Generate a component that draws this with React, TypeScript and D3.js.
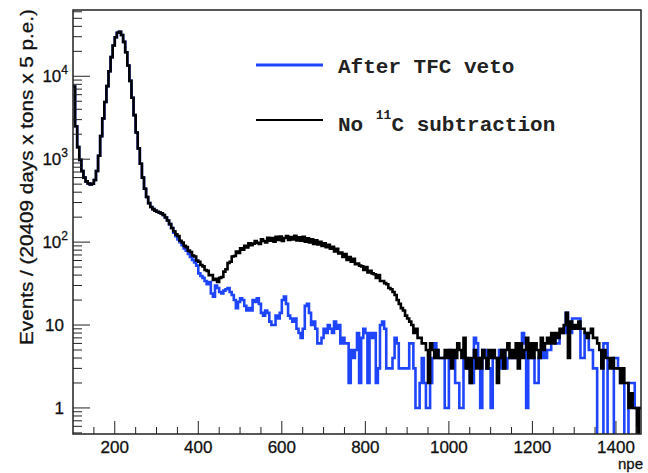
import React, { useEffect, useRef } from 'react';
import * as d3 from 'd3';

// npe histogram, 5 p.e. bins starting at 100
const binStart = 100;
const binWidth = 5;

// 100 - 335 npe: both spectra identical
const lowEnergyCounts = [
  7500, 2500, 1400, 980, 720, 600, 540, 510, 495, 505, 560, 720,
  1100, 1900, 3100, 4900, 7600, 11500, 17000, 23500, 29500, 33500, 34500, 31500,
  26000, 19500, 13500, 8800, 5500, 3400, 2100, 1350, 880, 600, 440, 350,
  295, 265, 250, 240, 232, 228, 222, 212, 198, 182, 165, 148,
];

// 340 - 1455 npe, no 11C subtraction
const noC11Tail = [
  135, 124, 118, 104, 99, 90, 87, 79, 76, 69, 67, 60,
  58, 53, 51, 46, 45, 40, 40, 35, 36, 33, 37, 38,
  44, 47, 56, 58, 67, 68, 77, 74, 84, 81, 90, 86,
  97, 92, 96, 103, 98, 95, 108, 103, 99, 113, 104, 112,
  101, 116, 106, 117, 103, 112, 118, 106, 115, 108, 119, 105,
  114, 104, 116, 101, 111, 99, 108, 95, 105, 94, 101, 90,
  97, 87, 93, 83, 88, 77, 83, 73, 75, 66, 72, 61,
  66, 58, 63, 54, 55, 52, 51, 46, 50, 43, 45, 42,
  41, 37, 40, 34, 34, 32, 31, 28, 27, 25, 23, 20,
  18, 16, 15, 13, 12, 11, 10, 8, 9, 7, 7, 6,
  6, 5, 2, 6, 5, 4, 5, 4, 4, 4, 5, 4,
  5, 3, 5, 4, 6, 5, 4, 7, 3, 4, 2, 4,
  5, 3, 4, 3, 5, 4, 3, 5, 4, 5, 4, 2,
  4, 5, 3, 5, 6, 4, 5, 4, 6, 3, 6, 4,
  5, 7, 4, 6, 4, 6, 5, 4, 7, 5, 6, 7,
  6, 8, 6, 8, 7, 9, 8, 10, 14, 4, 11, 9,
  10, 9, 11, 9, 9, 8, 7, 8, 9, 7, 7, 6,
  5, 3, 5, 4, 4, 3, 4, 3, 3, 3, 2, 3,
  2, 2, 1, 1.5, 1, 1, 0, 1,
];

// 340 - 1455 npe, after TFC veto
const tfcVetoTail = [
  130, 118, 108, 100, 92, 84, 79, 72, 66, 61, 57, 52,
  42, 39, 37, 34, 31, 33, 24, 22, 30, 28, 25, 24,
  26, 27, 28, 25, 23, 20, 16, 19, 21, 20, 17, 15,
  16, 15, 20, 19, 21, 18, 14, 13, 15, 14, 11, 10,
  10, 13, 12, 14, 20, 22, 18, 13, 12, 11, 12, 9,
  8, 7, 9, 17, 18, 14, 10, 11, 9, 6, 6, 7,
  9, 8, 10, 9, 8, 11, 9, 10, 6, 7, 6, 6,
  2, 5, 4, 5, 8, 2, 7, 9, 8, 2, 8, 7,
  8, 2, 3, 10, 11, 9, 3, 3, 3, 4, 7, 6,
  3, 3, 3, 3, 3, 6, 6, 3, 1, 1, 2, 4,
  2, 1, 1, 2, 4, 6, 5, 4, 4, 4, 1, 1,
  5, 4, 4, 2, 2, 1, 1, 4, 4, 3, 2, 2,
  7, 6, 4, 1, 5, 5, 3, 3, 1, 4, 4, 4,
  5, 3, 5, 3, 4, 4, 4, 4, 5, 4, 6, 8,
  6, 1, 4, 4, 4, 2, 2, 4, 4, 5, 4, 5,
  5, 7, 7, 6, 6, 8, 8, 8, 14, 8, 8, 12,
  12, 12, 12, 4, 4, 8, 8, 5, 5, 3, 3, 0,
  0, 0, 6, 6, 0, 0, 0, 4, 4, 3, 2, 2,
  0, 0, 2, 2, 2, 1, 1, 1,
];

const tfcVetoCounts = [...lowEnergyCounts, ...tfcVetoTail];
const noC11Counts = [...lowEnergyCounts, ...noC11Tail];

const xMajorTicks = [200, 400, 600, 800, 1000, 1200, 1400];
const yMajorTicks = [1, 10, 100, 1000, 10000];

const W = 648;
const H = 473;

const App = () => {
  const svgRef = useRef<SVGSVGElement>(null);

  useEffect(() => {
    const svg = d3.select(svgRef.current);
    svg.selectAll('*').remove();

    const left = 73, right = 641, top = 10, bottom = 434;

    const x = d3.scaleLinear().domain([100, 1460]).range([left, right]);
    const y = d3.scaleLog().domain([0.485, 63000]).range([bottom, top]);

    svg.append('rect').attr('width', W).attr('height', H).attr('fill', 'white');

    svg.append('defs').append('clipPath').attr('id', 'plot-clip')
      .append('rect')
      .attr('x', left).attr('y', top)
      .attr('width', right - left).attr('height', bottom - top);

    const stepPoints = (counts: number[]) => {
      const pts: [number, number][] = [];
      counts.forEach((c, i) => {
        const x0 = binStart + i * binWidth;
        const v = c > 0 ? c : 0.2;
        pts.push([x0, v]);
        pts.push([x0 + binWidth, v]);
      });
      return pts;
    };

    const line = d3.line<[number, number]>()
      .x(d => x(d[0]))
      .y(d => y(d[1]));

    const plot = svg.append('g').attr('clip-path', 'url(#plot-clip)');

    plot.append('path')
      .datum(stepPoints(tfcVetoCounts))
      .attr('fill', 'none')
      .attr('stroke', '#1f45fc')
      .attr('stroke-width', 2.6)
      .attr('d', line);

    plot.append('path')
      .datum(stepPoints(noC11Counts))
      .attr('fill', 'none')
      .attr('stroke', '#000')
      .attr('stroke-width', 2.6)
      .attr('d', line);

    // frame
    svg.append('rect')
      .attr('x', left).attr('y', top)
      .attr('width', right - left).attr('height', bottom - top)
      .attr('fill', 'none')
      .attr('stroke', '#222')
      .attr('stroke-width', 1.5);

    const axisColor = '#222';
    const labelFont = 'Liberation Sans, Arial, Helvetica, sans-serif';

    // x ticks
    const xMinor = d3.range(150, 1460, 50).filter(v => !xMajorTicks.includes(v));
    svg.append('g').selectAll('line').data(xMinor).enter().append('line')
      .attr('x1', d => x(d)).attr('x2', d => x(d))
      .attr('y1', bottom).attr('y2', bottom - 7)
      .attr('stroke', axisColor).attr('stroke-width', 1);
    svg.append('g').selectAll('line').data(xMajorTicks).enter().append('line')
      .attr('x1', d => x(d)).attr('x2', d => x(d))
      .attr('y1', bottom).attr('y2', bottom - 13)
      .attr('stroke', axisColor).attr('stroke-width', 1);
    svg.append('g').selectAll('text').data(xMajorTicks).enter().append('text')
      .attr('x', d => x(d)).attr('y', bottom + 19)
      .attr('text-anchor', 'middle')
      .attr('fill', '#111')
      .style('font-family', labelFont)
      .style('font-size', '17px')
      .style('stroke', '#111').style('stroke-width', 0.3)
      .text(d => d);

    // y ticks
    const yMinor: number[] = [];
    [0.1, 1, 10, 100, 1000, 10000].forEach(dec => {
      for (let k = 2; k <= 9; k++) {
        const v = dec * k;
        if (v > 0.485 && v < 63000) yMinor.push(v);
      }
    });
    svg.append('g').selectAll('line').data(yMinor).enter().append('line')
      .attr('x1', left).attr('x2', left + 9)
      .attr('y1', d => y(d)).attr('y2', d => y(d))
      .attr('stroke', axisColor).attr('stroke-width', 1);
    svg.append('g').selectAll('line').data(yMajorTicks).enter().append('line')
      .attr('x1', left).attr('x2', left + 17)
      .attr('y1', d => y(d)).attr('y2', d => y(d))
      .attr('stroke', axisColor).attr('stroke-width', 1);

    const yLabels = svg.append('g')
      .attr('fill', '#111')
      .style('font-family', labelFont)
      .style('font-size', '17px')
      .style('stroke', '#111').style('stroke-width', 0.3);
    yMajorTicks.forEach(v => {
      const exp = Math.round(Math.log10(v));
      const t = yLabels.append('text')
        .attr('y', y(v) + 6)
        .attr('text-anchor', 'end');
      if (exp <= 1) {
        t.attr('x', 64).text(String(v));
      } else {
        t.attr('x', 68);
        t.append('tspan').text('10');
        t.append('tspan').attr('dy', -8).style('font-size', '12px').text(String(exp));
      }
    });

    // axis titles
    svg.append('text')
      .attr('transform', `translate(33, ${top - 1}) rotate(-90)`)
      .attr('text-anchor', 'end')
      .attr('fill', '#111')
      .attr('textLength', 336)
      .attr('lengthAdjust', 'spacingAndGlyphs')
      .style('font-family', labelFont)
      .style('font-size', '18px')
      .style('stroke', '#111').style('stroke-width', 0.3)
      .text('Events / (20409 days x tons x 5 p.e.)');

    svg.append('text')
      .attr('x', right + 2).attr('y', 469)
      .attr('text-anchor', 'end')
      .attr('fill', '#111')
      .style('font-family', labelFont)
      .style('font-size', '15px')
      .style('stroke', '#111').style('stroke-width', 0.3)
      .text('npe');

    // legend
    const legend = svg.append('g')
      .style('font-family', 'Liberation Mono, Courier New, monospace')
      .style('font-weight', 'bold');

    legend.append('line')
      .attr('x1', 256).attr('x2', 323).attr('y1', 65).attr('y2', 65)
      .attr('stroke', '#1f45fc').attr('stroke-width', 3);
    legend.append('text')
      .attr('x', 338).attr('y', 73)
      .attr('fill', '#222')
      .style('font-size', '21px')
      .text('After TFC veto');

    legend.append('line')
      .attr('x1', 256).attr('x2', 323).attr('y1', 120).attr('y2', 120)
      .attr('stroke', '#000').attr('stroke-width', 2);
    const t2 = legend.append('text')
      .attr('x', 338).attr('y', 131)
      .attr('fill', '#222')
      .style('font-size', '21px');
    t2.append('tspan').text('No ');
    t2.append('tspan').attr('dy', -12).style('font-size', '13px').text('11');
    t2.append('tspan').attr('dy', 12).text('C subtraction');
  }, []);

  return (
    <svg
      ref={svgRef}
      width={W}
      height={H}
      style={{ position: 'absolute', left: 0, top: 0 }}
    />
  );
};

export default App;
